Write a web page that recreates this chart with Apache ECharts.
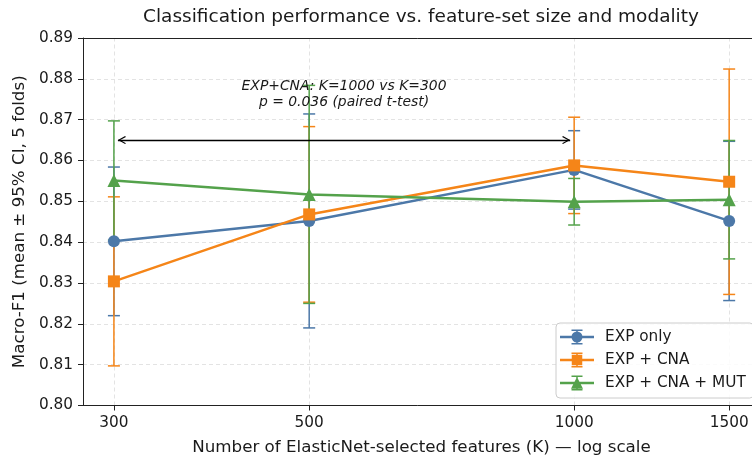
<!DOCTYPE html>
<html>
<head>
<meta charset="utf-8">
<script src="https://cdn.jsdelivr.net/npm/echarts@6/dist/echarts.min.js"></script>
<style>html,body{margin:0;padding:0;background:#fff;overflow:hidden;}#c{width:752px;height:457px;}</style>
</head>
<body>
<div id="c"></div>
<script>
// ---- data ----
const K = [300, 500, 1000, 1500];
const xTicks = [300, 500, 1000, 1500];
const yTicks = [0.80, 0.81, 0.82, 0.83, 0.84, 0.85, 0.86, 0.87, 0.88, 0.89];
const expOnly = [0.8402, 0.8452, 0.8577, 0.8452];
const expOnlyCI = [0.0182, 0.0262, 0.0096, 0.0195];
const expCna = [0.8304, 0.8468, 0.8588, 0.8548];
const expCnaCI = [0.0207, 0.0215, 0.0118, 0.0276];
const expCnaMut = [0.8551, 0.8517, 0.8499, 0.8504];
const expCnaMutCI = [0.0146, 0.0267, 0.0057, 0.0145];
const seriesNames = ['EXP only', 'EXP + CNA', 'EXP + CNA + MUT'];
const annotLine1 = 'EXP+CNA: K=1000 vs K=300';
const annotLine2 = 'p = 0.036 (paired t-test)';
const annotFrom = 300, annotTo = 1000, annotY = 0.865, annotTextY = 0.8761;

const colors = ['#4C78A8', '#F58518', '#54A24B'];
const symbols = ['circle', 'rect', 'triangle'];
const symbolSizes = [12, 12, 13];
const means = [expOnly, expCna, expCnaMut];
const cis = [expOnlyCI, expCnaCI, expCnaMutCI];
const FONT = 'DejaVu Sans';
const TXT = '#1a1a1a';
const X_MIN = 276.7, X_MAX = 1626;

function errData(m, c) {
  return K.map((k, i) => [k, m[i], m[i] - c[i], m[i] + c[i]]);
}
function renderErr(params, api) {
  const x = api.value(0);
  const p1 = api.coord([x, api.value(3)]);
  const p2 = api.coord([x, api.value(2)]);
  const cap = 6;
  const style = { stroke: api.visual('color'), lineWidth: 1.5 };
  return {
    type: 'group',
    children: [
      { type: 'line', shape: { x1: p1[0], y1: p1[1], x2: p2[0], y2: p2[1] }, style: style },
      { type: 'line', shape: { x1: p1[0] - cap, y1: p1[1], x2: p1[0] + cap, y2: p1[1] }, style: style },
      { type: 'line', shape: { x1: p2[0] - cap, y1: p2[1], x2: p2[0] + cap, y2: p2[1] }, style: style }
    ]
  };
}

// legend handles (34 x 15 units): line + error bar with caps + marker
const errBarPath = 'M0,6.25 L34,6.25 L34,8.75 L0,8.75 Z ' +
  'M16.25,0 L17.75,0 L17.75,15 L16.25,15 Z ' +
  'M11.5,0 L22.5,0 L22.5,1.5 L11.5,1.5 Z M11.5,13.5 L22.5,13.5 L22.5,15 L11.5,15 Z ';
const legendIcons = [
  'path://' + errBarPath + 'M11.5,7.5 A5.5,5.5 0 1,1 22.5,7.5 A5.5,5.5 0 1,1 11.5,7.5 Z',
  'path://' + errBarPath + 'M11.75,2.25 L22.25,2.25 L22.25,12.75 L11.75,12.75 Z',
  'path://' + errBarPath + 'M17,1.5 L23,13.25 L11,13.25 Z'
];

// open chevron whose tip sits at the centre of its bounding box
const chevron = 'path://M4,0 L4.02,0 L4,0.02 Z M0,15.1 L4,8 L8,15.1 L7.1,15.9 L4,10.3 L0.9,15.9 Z';

function buildSeries(arrowFrom, arrowTo) {
  const series = [];
  series.push({
    name: '_grid', type: 'line', data: [], silent: true, z: 0,
    markLine: {
      z: 0, silent: true, symbol: 'none', animation: false,
      label: { show: false },
      lineStyle: { color: '#e3e3e3', type: [4, 3], width: 1 },
      data: xTicks.map(v => ({ xAxis: v }))
    }
  });
  series.push({
    name: '_arrow', type: 'line', data: [], silent: true,
    markLine: {
      z: 5, silent: true, animation: false,
      symbol: [chevron, chevron],
      symbolSize: [8, 16],
      label: { show: false },
      lineStyle: { color: '#000', type: 'solid', width: 1.3 },
      data: [[{ coord: [arrowFrom, annotY] }, { coord: [arrowTo, annotY] }]]
    },
    markPoint: {
      z: 6, silent: true, animation: false,
      symbol: 'circle', symbolSize: 1,
      itemStyle: { color: 'rgba(0,0,0,0)' },
      label: {
        show: true, position: 'inside',
        formatter: annotLine1 + '\n' + annotLine2,
        fontFamily: FONT, fontStyle: 'italic', fontSize: 13.9, lineHeight: 16,
        color: TXT, align: 'center'
      },
      data: [{ coord: [Math.sqrt(annotFrom * annotTo), annotTextY] }]
    }
  });
  for (let s = 0; s < 3; s++) {
    series.push({
      name: seriesNames[s] + '_err', type: 'custom',
      renderItem: renderErr,
      itemStyle: { color: colors[s] },
      encode: { x: 0, y: [1, 2, 3] },
      data: errData(means[s], cis[s]),
      silent: true, z: 2
    });
  }
  for (let s = 0; s < 3; s++) {
    series.push({
      name: seriesNames[s], type: 'line',
      data: K.map((k, i) => [k, means[s][i]]),
      symbol: symbols[s], symbolSize: symbolSizes[s], showAllSymbol: true,
      lineStyle: { color: colors[s], width: 2.5 },
      itemStyle: { color: colors[s], borderWidth: 0 },
      z: 3
    });
  }
  return series;
}

const axisLineStyle = { color: '#222', width: 1 };
const chart = echarts.init(document.getElementById('c'), null, { renderer: 'canvas' });
chart.setOption({
  animation: false,
  backgroundColor: '#fff',
  title: {
    text: 'Classification performance vs. feature-set size and modality',
    left: 143, top: 8, padding: 0,
    textStyle: { fontFamily: FONT, fontSize: 18.5, fontWeight: 'normal', color: TXT }
  },
  grid: {
    left: 83, right: -8, top: 38, bottom: 51.5,
    outerBoundsMode: 'none', containLabel: false, show: false
  },
  legend: {
    data: seriesNames.map((n, i) => ({ name: n, icon: legendIcons[i] })),
    orient: 'vertical',
    left: 556, top: 323,
    padding: [6.5, 8, 7.5, 4],
    itemWidth: 34, itemHeight: 15, itemGap: 8,
    symbolKeepAspect: false,
    backgroundColor: 'rgba(255,255,255,0.85)',
    borderColor: '#cccccc', borderWidth: 1, borderRadius: 4,
    textStyle: { fontFamily: FONT, fontSize: 15.3, color: TXT, padding: [0, 0, 0, 6] }
  },
  xAxis: [{
    type: 'log', logBase: 10, min: X_MIN, max: X_MAX,
    name: 'Number of ElasticNet-selected features (K) \u2014 log scale',
    nameLocation: 'middle', nameGap: 34,
    nameTextStyle: { fontFamily: FONT, fontSize: 16.7, color: TXT },
    axisLine: { show: true, lineStyle: axisLineStyle },
    axisTick: { show: true, inside: false, length: 5, customValues: xTicks, lineStyle: { color: '#222' } },
    minorTick: { show: false },
    axisLabel: { customValues: xTicks, fontFamily: FONT, fontSize: 15.3, color: TXT, margin: 10,
      formatter: v => String(Math.round(v)) },
    splitLine: { show: false }
  }, {
    type: 'log', logBase: 10, min: X_MIN, max: X_MAX, position: 'top',
    axisLine: { show: true, lineStyle: axisLineStyle },
    axisTick: { show: false }, axisLabel: { show: false },
    minorTick: { show: false }, splitLine: { show: false }
  }],
  yAxis: {
    type: 'value',
    min: yTicks[0], max: yTicks[yTicks.length - 1], interval: 0.01,
    name: 'Macro-F1 (mean \u00b1 95% CI, 5 folds)',
    nameLocation: 'middle', nameGap: 45,
    nameTextStyle: { fontFamily: FONT, fontSize: 16.7, color: TXT },
    axisLine: { show: true, lineStyle: axisLineStyle },
    axisTick: { show: true, inside: false, length: 5, lineStyle: { color: '#222' } },
    axisLabel: { fontFamily: FONT, fontSize: 15.3, color: TXT, margin: 10,
      formatter: v => v.toFixed(2) },
    splitLine: { show: true, showMinLine: false, showMaxLine: false,
      lineStyle: { color: '#e3e3e3', type: [4, 3], width: 1 } }
  },
  series: buildSeries(annotFrom, annotTo)
});

// shrink the annotation arrow ends by a few pixels (like matplotlib's shrinkA/B)
const SHRINK = 4;
const pA = chart.convertToPixel({ gridIndex: 0 }, [annotFrom, annotY]);
const pB = chart.convertToPixel({ gridIndex: 0 }, [annotTo, annotY]);
const dA = chart.convertFromPixel({ gridIndex: 0 }, [pA[0] + SHRINK, pA[1]]);
const dB = chart.convertFromPixel({ gridIndex: 0 }, [pB[0] - SHRINK, pB[1]]);
chart.setOption({ series: buildSeries(dA[0], dB[0]) });
</script>
</body>
</html>
